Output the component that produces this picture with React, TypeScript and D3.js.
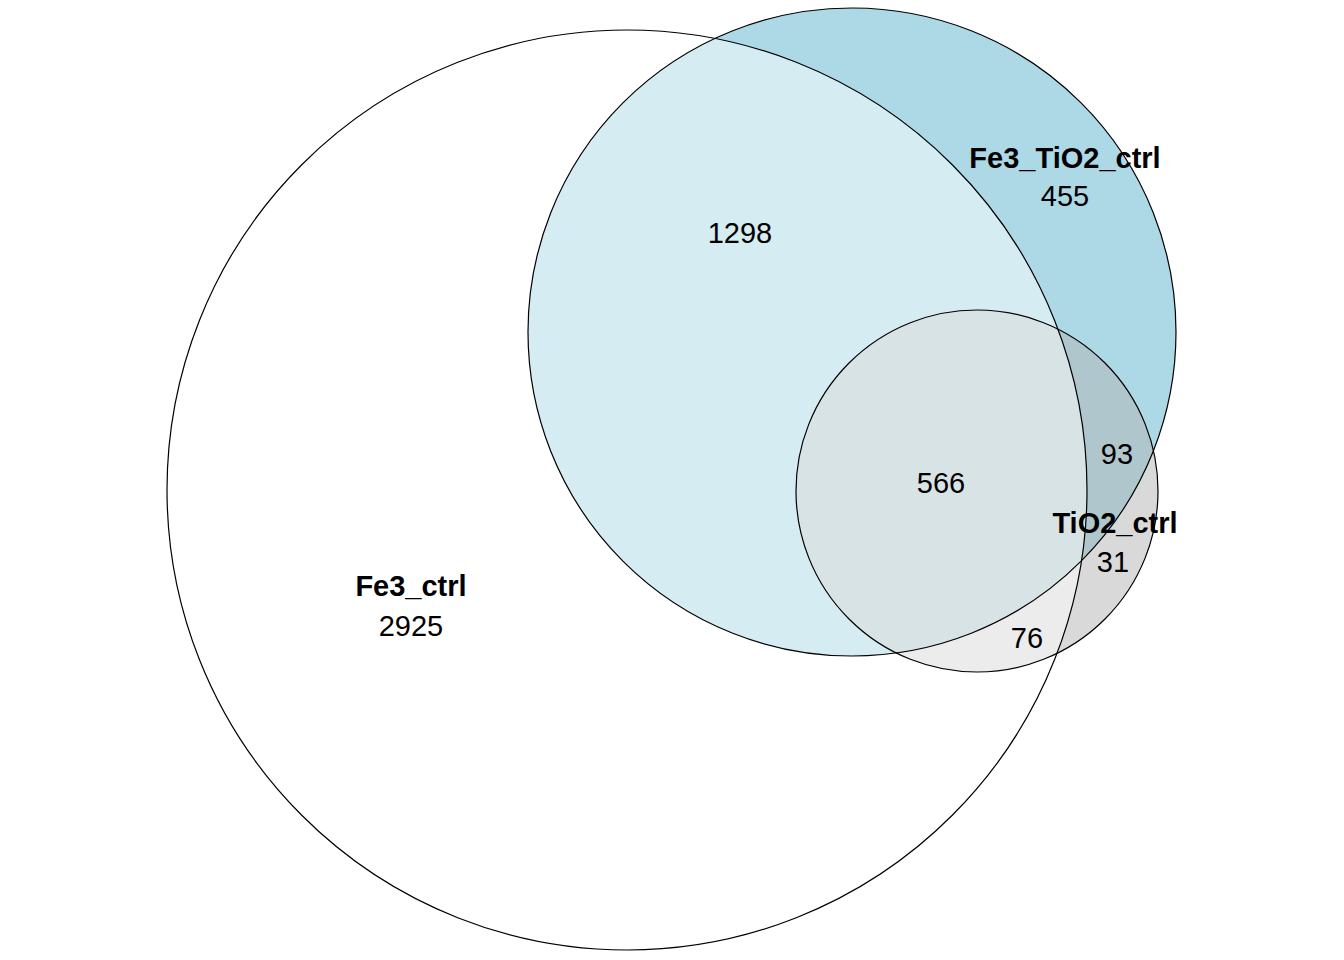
import * as d3 from 'd3';
import React from 'react';

const setNames = ['Fe3_TiO2_ctrl', 'TiO2_ctrl', 'Fe3_ctrl'];
const setCx = [8.52, 9.77, 6.27];
const setCy = [3.32, 4.91, 4.9];
const setR = [3.24, 1.81, 4.6];
const setFill = ['#ADD8E6', '#B3B3B3', '#FFFFFF'];
const setAlpha = [1, 0.5, 0.5];

const regionLabels = ['1298', '455', '566', '93', '31', '76', '2925'];
const regionX = [7.4, 10.65, 9.41, 11.17, 11.13, 10.27, 4.11];
const regionY = [2.33, 1.96, 4.83, 4.54, 5.62, 6.38, 6.26];

const nameX = [10.65, 11.15, 4.11];
const nameY = [1.58, 5.23, 5.86];

const App: React.FC = () => {
  const width = 1344;
  const height = 960;
  const x = d3.scaleLinear().domain([0, 13.44]).range([0, width]);
  const y = d3.scaleLinear().domain([0, 9.6]).range([0, height]);
  const font = '"Liberation Sans", Arial, sans-serif';

  return (
    <svg width={width} height={height} style={{ position: 'absolute', left: 0, top: 0 }}>
      <rect width={width} height={height} fill="white" />
      {setNames.map((n, i) => (
        <circle key={n} cx={x(setCx[i])} cy={y(setCy[i])} r={x(setR[i])}
          fill={setFill[i]} fillOpacity={setAlpha[i]} stroke="none" />
      ))}
      {setNames.map((n, i) => (
        <circle key={n + 's'} cx={x(setCx[i])} cy={y(setCy[i])} r={x(setR[i])}
          fill="none" stroke="black" strokeWidth={1.2} />
      ))}
      {regionLabels.map((t, i) => (
        <text key={i} x={x(regionX[i])} y={y(regionY[i])} textAnchor="middle"
          dominantBaseline="central" fontFamily={font} fontSize={29}>{t}</text>
      ))}
      {setNames.map((n, i) => (
        <text key={n + 'l'} x={x(nameX[i])} y={y(nameY[i])} textAnchor="middle"
          dominantBaseline="central" fontFamily={font} fontSize={29} fontWeight="bold">{n}</text>
      ))}
    </svg>
  );
};

export default App;
